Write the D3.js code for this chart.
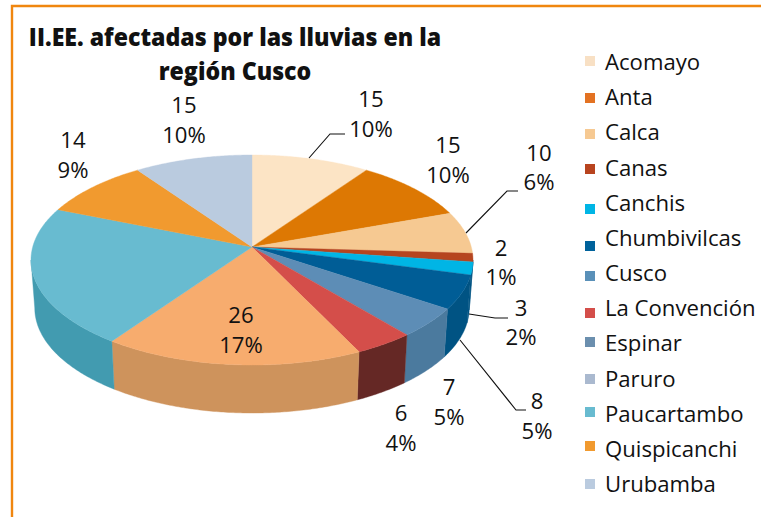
<!DOCTYPE html>
<html><head><meta charset="utf-8">
<script src="https://cdn.jsdelivr.net/npm/d3@7"></script>
<style>
html,body{margin:0;padding:0;background:#fff}
svg{display:block}
text{font-family:"Open Sans",sans-serif;fill:#111}
</style></head><body><svg id="c" width="761" height="517"></svg>
<script>
const titleLines = ["II.EE. afectadas por las lluvias en la", "región Cusco"];
const categories = ["Acomayo","Anta","Calca","Canas","Canchis","Chumbivilcas","Cusco","La Convención","Espinar","Paruro","Paucartambo","Quispicanchi","Urubamba"];
const values = [15,15,10,2,3,8,7,6,0,26,33,14,15];
const valueLabels = ["15","15","10","2","3","8","7","6",null,"26",null,"14","15"];
const percentLabels = ["10%","10%","6%","1%","2%","5%","5%","4%",null,"17%",null,"9%","10%"];
const legendColors = ["#f8e0c4","#e37222","#f6c992","#b8441f","#00b5e5","#00629b","#5a90b8","#d44e4a","#6b8fae","#aab9cf","#68bbd0","#f19a2f","#bacbdf"];
const topColors = ["#fce4c5","#dd7803","#f6c992","#b6451f","#00b5e5","#005d96","#5d8db6","#d44e4a","#6b8fae","#f7ac6e","#68bbd0","#f19a2f","#bacbdf"];
const sideColors = ["#c9b59c","#b06002","#c4a074","#005383","#005383","#005383","#4b7a9e","#652825","#55728a","#ce935c","#429bb0","#c07b26","#94a2b2"];

// layout (label anchors and leaders, not data)
const labelAnchors = [[371,107,137],[448,153,183],[539,161,190],[501,256,285],[521,316,345],[537,409,439],[449,395,425],[401,421,451],null,[241,323,353],null,[73,148,178],[184,113,143]];
const leaders = [[[309,158],[330,134],[345,134]],[[466,233],[507,191],[518,191]],[[469,314],[495,318],[508,318]],[[460,340],[516,410],[526,410]]];
const swatchY = [56,93,129,164,204,241,271,308,337,374,407,441,479];

const W=761,H=517;
const svg=d3.select("#c");
const narrow=(s,x,y,sx)=>s.attr("transform",`translate(${x},${y}) scale(${sx},1)`);

// frame
svg.append("path").attr("d","M12,517V6H761").attr("fill","none").attr("stroke","#f0860f").attr("stroke-width",2.4);

// pie projection: a tilted disc seen in perspective
const apex={x:252,y:247}, R=219.3, b=103.4, k=-0.1238, depth=48, baseScale=0.983;
const project=t=>{const u=Math.sin(t),v=-Math.cos(t),w=1+k*v;return [apex.x+R*u/w,apex.y+b*v/w];};
const projectBase=t=>{const p=project(t);return [apex.x+(p[0]-apex.x)*baseScale,p[1]+depth];};
const line=d3.line();
const arcs=d3.pie().sort(null).value(d=>d)(values);
const sample=(a,c)=>{const n=Math.max(2,Math.ceil((c-a)/0.01));return d3.range(n+1).map(i=>a+(c-a)*i/n);};

// side wall
const vis0=Math.acos(k), vis1=2*Math.PI-vis0;
const g=svg.append("g");
arcs.forEach((d,i)=>{
  const a=Math.max(d.startAngle,vis0), c=Math.min(d.endAngle,vis1);
  if(c<=a) return;
  const ts=sample(a,c);
  const pts=ts.map(project).concat(ts.slice().reverse().map(projectBase));
  g.append("path").attr("d",line(pts)+"Z").attr("fill",sideColors[i]).attr("stroke",sideColors[i]).attr("stroke-width",.4);
});
// top face
arcs.forEach((d,i)=>{
  if(d.endAngle<=d.startAngle) return;
  const pts=[[apex.x,apex.y]].concat(sample(d.startAngle,d.endAngle).map(project));
  g.append("path").attr("d",line(pts)+"Z").attr("fill",topColors[i]).attr("stroke",topColors[i]).attr("stroke-width",.4);
});

// leaders
leaders.forEach(l=>svg.append("path").attr("d",line(l)).attr("fill","none").attr("stroke","#111").attr("stroke-width",1.1));

// data labels
labelAnchors.forEach((p,i)=>{
  if(!p) return;
  [[valueLabels[i],p[1]],[percentLabels[i],p[2]]].forEach(([t,y])=>{
    narrow(svg.append("text").attr("text-anchor","middle").attr("font-size",21.5).text(t),p[0],y,1.03);
  });
});

// title
titleLines.forEach((t,i)=>{
  narrow(svg.append("text").attr("text-anchor","middle").attr("font-size",25).attr("font-weight",800).text(t),235,[46,80][i],.925);
});

// legend
const ly=d3.scalePoint().domain(categories).range([70,492]);
categories.forEach((c,i)=>{
  svg.append("rect").attr("x",585).attr("y",swatchY[i]).attr("width",10).attr("height",10).attr("fill",legendColors[i]);
  narrow(svg.append("text").attr("font-size",21.5).text(c),605,ly(c),1.03);
});
</script></body></html>
